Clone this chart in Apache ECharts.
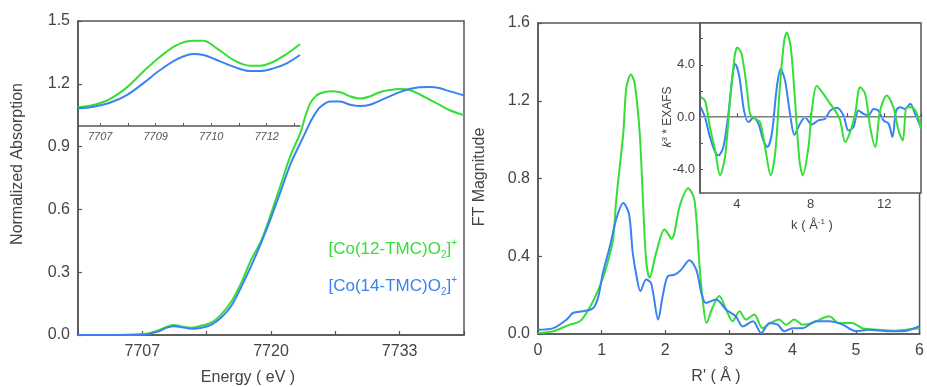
<!DOCTYPE html>
<html>
<head>
<meta charset="utf-8">
<script src="https://cdn.jsdelivr.net/npm/echarts@6/dist/echarts.min.js"></script>
<style>
html,body{margin:0;padding:0;background:#fff;}
#chart{width:927px;height:387px;}
</style>
</head>
<body>
<div id="chart"></div>
<script>
// ---------- Data ----------
// Left: XANES (normalized absorption vs energy, eV)
const xanesEnergy = [7700.5,7704,7707,7708.5,7709.5,7710.2,7711,7712,7713,7714,7715,7716,7717,7718,7719,7720,7721,7722,7723,7723.5,7724,7724.5,7725,7726,7727,7728,7729,7730,7731,7732,7733,7734,7735,7736,7737,7738,7739.5];
const xanes12 = [0,0,0.003,0.02,0.04,0.048,0.04,0.035,0.045,0.06,0.1,0.16,0.25,0.36,0.45,0.58,0.72,0.86,0.97,1.05,1.11,1.14,1.155,1.165,1.16,1.14,1.13,1.14,1.16,1.17,1.175,1.17,1.15,1.125,1.1,1.075,1.05];
const xanes14 = [0,0,0.002,0.015,0.035,0.042,0.037,0.03,0.035,0.05,0.085,0.14,0.23,0.33,0.44,0.56,0.69,0.82,0.92,0.97,1.02,1.06,1.09,1.115,1.115,1.1,1.094,1.1,1.12,1.14,1.16,1.175,1.183,1.185,1.18,1.165,1.145];

// Left inset: pre-edge region (relative intensity)
const preEdgeEnergy = [7706.4,7706.81,7707.26,7707.72,7708.16,7708.62,7709.07,7709.52,7709.79,7710.15,7710.6,7711.05,7711.32,7711.68,7712.04,7712.4];
const preEdge12 = [0.178,0.2,0.257,0.368,0.517,0.66,0.771,0.812,0.812,0.74,0.629,0.574,0.574,0.612,0.686,0.778];
const preEdge14 = [0.168,0.184,0.222,0.295,0.406,0.533,0.635,0.686,0.676,0.629,0.565,0.524,0.524,0.549,0.597,0.676];
const preEdgeTickValues = [7707,7708.5,7710,7711.5];
const preEdgeTickLabels = ['7707','7709','7710','7712'];

// Right: FT magnitude vs R'
const ftR12 = [0,0.24,0.5,0.66,0.82,0.97,1.08,1.18,1.23,1.34,1.39,1.46,1.52,1.6,1.65,1.7,1.755,1.86,1.99,2.1,2.23,2.36,2.46,2.54,2.59,2.65,2.75,2.85,2.96,3.06,3.17,3.27,3.4,3.53,3.66,3.79,3.9,4.03,4.16,4.32,4.58,4.73,4.94,5.1,5.36,5.62,5.78,6];
const ftMag12 = [0.005,0.014,0.048,0.065,0.14,0.245,0.35,0.485,0.69,1.03,1.27,1.335,1.29,1.03,0.69,0.38,0.29,0.42,0.537,0.49,0.66,0.75,0.69,0.35,0.177,0.057,0.14,0.195,0.125,0.065,0.117,0.074,0.1,0.03,0.057,0.074,0.048,0.074,0.048,0.057,0.091,0.057,0.057,0.03,0.022,0.017,0.022,0.03];
const ftR14 = [0,0.24,0.45,0.55,0.71,0.87,0.95,1.02,1.13,1.23,1.34,1.43,1.49,1.55,1.61,1.7,1.78,1.89,1.96,2.04,2.15,2.25,2.38,2.49,2.57,2.64,2.8,2.96,3.11,3.22,3.38,3.51,3.64,3.77,3.87,4,4.16,4.37,4.58,4.79,5,5.2,5.52,5.73,6];
const ftMag14 = [0.022,0.03,0.074,0.108,0.117,0.134,0.194,0.314,0.45,0.59,0.674,0.62,0.417,0.297,0.22,0.28,0.26,0.074,0.194,0.297,0.305,0.33,0.38,0.33,0.21,0.16,0.177,0.125,0.091,0.039,0.065,0.005,0.057,0.048,0.014,0.03,0.03,0.065,0.065,0.048,0.014,0.022,0.014,0.014,0.04];

// Right inset: k^3-weighted EXAFS
const exafsK12 = [2.04,2.27,2.54,2.82,3.09,3.36,3.63,3.9,4.03,4.26,4.54,4.72,4.99,5.26,5.53,5.84,6.08,6.35,6.57,6.71,6.93,7.16,7.4,7.58,7.89,8.07,8.34,8.7,9.07,9.34,9.61,9.88,10.15,10.42,10.7,10.97,11.24,11.51,11.78,12.14,12.5,12.78,13.01,13.23,13.5,13.78,13.99];
const exafs12 = [1.52,1.27,-0.76,-2.54,-4.44,-3.05,1.27,4.82,5.33,4.82,2.28,0.25,-0.13,-0.38,-2.28,-4.44,-2.79,2.54,5.84,6.47,5.33,1.27,-3.3,-4.44,-2.28,0.5,2.41,1.78,1.02,0.5,-0.25,-1.9,-1.14,0.25,2.28,1.78,-0.76,-2.28,0.5,1.65,0.76,-1.02,-1.78,0.76,0.76,0.25,-0.89];
const exafsK14 = [2.04,2.27,2.54,2.82,3.0,3.27,3.54,3.78,3.92,4.14,4.39,4.63,4.9,5.17,5.44,5.66,5.9,6.17,6.38,6.62,6.89,7.13,7.43,7.7,8.07,8.43,8.79,9.07,9.43,9.79,10.06,10.33,10.6,10.88,11.15,11.42,11.69,11.96,12.24,12.45,12.65,12.87,13.14,13.41,13.68,13.99];
const exafs14 = [0.76,0,-1.52,-2.66,-2.92,-2.28,0.25,3.3,4.06,3.05,0.5,-0.38,-0.05,-0.5,-1.78,-2.28,-1.27,2.28,3.68,2.79,0.25,-1.35,-0.5,0,-0.56,-0.25,-0.13,0.5,0.71,0.13,-1.02,-0.76,0.5,0.25,0.13,0.63,0.5,-0.25,-0.5,-1.52,0.5,0.76,0.63,1.02,0.25,-0.76];

// Tick labels
const xanesTickLabels = [7707,7720,7733];
const exafsKTickLabels = [4,8,12];
const exafsYTickLabels = [-4,0,4];
const exafsYTicks = [-4,-2,0,2,4,6];

const seriesNames = ['[Co(12-TMC)O2]+','[Co(14-TMC)O2]+'];
const GREEN = '#35de35';
const BLUE = '#3a82f2';

// ---------- Chart ----------
const FONT = 'Liberation Sans, Arial, sans-serif';
const AX = '#555';
const TXT = '#444';
const zip = (a,b) => a.map((v,i)=>[v,b[i]]);

const chart = echarts.init(document.getElementById('chart'), null, {renderer:'canvas'});

function axisCommon(fontSize, margin){
  return {
    axisLine:{show:true, lineStyle:{color:AX, width:1.5}},
    axisTick:{show:true, inside:true, length:4, lineStyle:{color:AX, width:1.2}},
    axisLabel:{color:TXT, fontSize:fontSize, fontFamily:FONT, margin:margin},
    splitLine:{show:false}
  };
}

function lineSeries(name, data, color, xi, yi, extra){
  return Object.assign({
    name:name, type:'line', xAxisIndex:xi, yAxisIndex:yi,
    data:data, smooth:0.35, showSymbol:false, symbol:'none',
    lineStyle:{color:color, width:2}, itemStyle:{color:color},
    silent:true, animation:false, z:3
  }, extra||{});
}

const option = {
  animation:false,
  backgroundColor:'#fff',
  grid:[
    {left:78, top:21, width:386, height:314, show:true, borderColor:AX, borderWidth:1.5, backgroundColor:'transparent'},
    {left:78, top:21, width:222, height:105, show:false},
    {left:538, top:23, width:383, height:311, show:true, borderColor:AX, borderWidth:1.5, backgroundColor:'transparent'},
    {left:700, top:23, width:221, height:170, show:true, borderColor:AX, borderWidth:1.5, backgroundColor:'#fff'}
  ],
  xAxis:[
    Object.assign(axisCommon(16, 9), {
      gridIndex:0, type:'value', min:7700.5, max:7739.5, interval:6.5,
      axisLabel:{color:TXT, fontSize:16, fontFamily:FONT, margin:9,
        formatter:v => xanesTickLabels.some(t=>Math.abs(t-v)<0.01) ? String(Math.round(v)) : ''}
    }),
    {
      gridIndex:1, type:'value', min:7706.4, max:7712.4,
      axisLine:{show:true, lineStyle:{color:AX, width:1.5}},
      axisTick:{show:true, inside:true, length:3, lineStyle:{color:AX, width:1},
        customValues:[7707,7707.75,7708.5,7709.25,7710,7710.75,7711.5,7712.25]},
      axisLabel:{show:true, color:'#555', fontSize:11, fontStyle:'italic', fontFamily:FONT, margin:5,
        customValues:preEdgeTickValues,
        formatter:v => { const i = preEdgeTickValues.findIndex(t=>Math.abs(t-v)<0.01); return i>=0 ? preEdgeTickLabels[i] : ''; }},
      splitLine:{show:false}
    },
    Object.assign(axisCommon(16, 9), {
      gridIndex:2, type:'value', min:0, max:6, interval:1
    }),
    Object.assign(axisCommon(13, 5), {
      gridIndex:3, type:'value', min:2, max:14, interval:2,
      axisLabel:{color:TXT, fontSize:13, fontFamily:FONT, margin:5,
        formatter:v => exafsKTickLabels.includes(Math.round(v)) ? String(Math.round(v)) : ''}
    })
  ],
  yAxis:[
    Object.assign(axisCommon(16, 8), {
      gridIndex:0, type:'value', min:0, max:1.5, interval:0.3,
      axisLabel:{color:TXT, fontSize:16, fontFamily:FONT, margin:8, formatter:v=>v.toFixed(1)}
    }),
    {gridIndex:1, type:'value', min:0, max:1, show:false},
    Object.assign(axisCommon(16, 8), {
      gridIndex:2, type:'value', min:0, max:1.6, interval:0.4,
      axisLabel:{color:TXT, fontSize:16, fontFamily:FONT, margin:8, formatter:v=>v.toFixed(1)}
    }),
    {
      gridIndex:3, type:'value', min:-5.8, max:7.2,
      axisLine:{show:true, lineStyle:{color:AX, width:1.5}},
      axisTick:{show:true, inside:true, length:3, lineStyle:{color:AX, width:1}, customValues:exafsYTicks},
      axisLabel:{color:TXT, fontSize:13, fontFamily:FONT, margin:5, customValues:exafsYTickLabels,
        formatter:v=>v.toFixed(1)},
      splitLine:{show:false}
    }
  ],
  series:[
    lineSeries(seriesNames[0], zip(xanesEnergy, xanes12), GREEN, 0, 0),
    lineSeries(seriesNames[1], zip(xanesEnergy, xanes14), BLUE, 0, 0),
    lineSeries(seriesNames[0]+' pre-edge', zip(preEdgeEnergy, preEdge12), GREEN, 1, 1),
    lineSeries(seriesNames[1]+' pre-edge', zip(preEdgeEnergy, preEdge14), BLUE, 1, 1),
    lineSeries(seriesNames[0]+' FT', zip(ftR12, ftMag12), GREEN, 2, 2, {smooth:0.3}),
    lineSeries(seriesNames[1]+' FT', zip(ftR14, ftMag14), BLUE, 2, 2, {smooth:0.3}),
    lineSeries(seriesNames[1]+' EXAFS', zip(exafsK14, exafs14), BLUE, 3, 3, {smooth:0.3, z:4,
      markLine:{silent:true, symbol:'none', label:{show:false}, lineStyle:{color:'#bbb', width:1, type:'solid'}, data:[{yAxis:0}], animation:false}}),
    lineSeries(seriesNames[0]+' EXAFS', zip(exafsK12, exafs12), GREEN, 3, 3, {smooth:0.3, z:5})
  ],
  graphic:[
    {type:'text', x:18, y:164, rotation:Math.PI/2, style:{text:'Normalized Absorption', fill:TXT, font:'16px '+FONT, align:'center', verticalAlign:'middle'}},
    {type:'text', x:248, y:378, style:{text:'Energy ( eV )', fill:TXT, font:'16px '+FONT, align:'center', verticalAlign:'middle'}},
    {type:'text', x:480, y:177, rotation:Math.PI/2, style:{text:'FT Magnitude', fill:TXT, font:'16px '+FONT, align:'center', verticalAlign:'middle'}},
    {type:'text', x:716, y:377, style:{text:"R' ( Å )", fill:TXT, font:'16px '+FONT, align:'center', verticalAlign:'middle'}},
    {type:'text', x:668, y:117, rotation:Math.PI/2, style:{
      text:'{i|k}{s|3}{a| * EXAFS}', align:'center', verticalAlign:'middle', fill:TXT,
      rich:{i:{fontSize:12, fontStyle:'italic', fontFamily:FONT, fill:TXT}, a:{fontSize:12, fontFamily:FONT, fill:TXT}, s:{fontSize:8, fontFamily:FONT, fill:TXT, verticalAlign:'top', lineHeight:14}}}},
    {type:'text', x:812, y:225, style:{
      text:'{a|k ( Å}{s|-1}{a| )}', align:'center', verticalAlign:'middle', fill:TXT,
      rich:{a:{fontSize:13, fontFamily:FONT, fill:TXT}, s:{fontSize:8, fontFamily:FONT, fill:TXT, verticalAlign:'top', lineHeight:15}}}},
    {type:'text', x:457, y:249, style:{
      text:'{a|[Co(12-TMC)O}{b|2}{a|]}{c|+}', align:'right', verticalAlign:'middle', fill:GREEN,
      rich:{a:{fontSize:17, fontFamily:FONT, fill:GREEN, lineHeight:22}, b:{fontSize:10, fontFamily:FONT, fill:GREEN, verticalAlign:'bottom', lineHeight:10}, c:{fontSize:10, fontFamily:FONT, fill:GREEN, verticalAlign:'top', lineHeight:10}}}},
    {type:'text', x:457, y:286, style:{
      text:'{a|[Co(14-TMC)O}{b|2}{a|]}{c|+}', align:'right', verticalAlign:'middle', fill:BLUE,
      rich:{a:{fontSize:17, fontFamily:FONT, fill:BLUE, lineHeight:22}, b:{fontSize:10, fontFamily:FONT, fill:BLUE, verticalAlign:'bottom', lineHeight:10}, c:{fontSize:10, fontFamily:FONT, fill:BLUE, verticalAlign:'top', lineHeight:10}}}}
  ]
};
chart.setOption(option);
</script>
</body>
</html>
